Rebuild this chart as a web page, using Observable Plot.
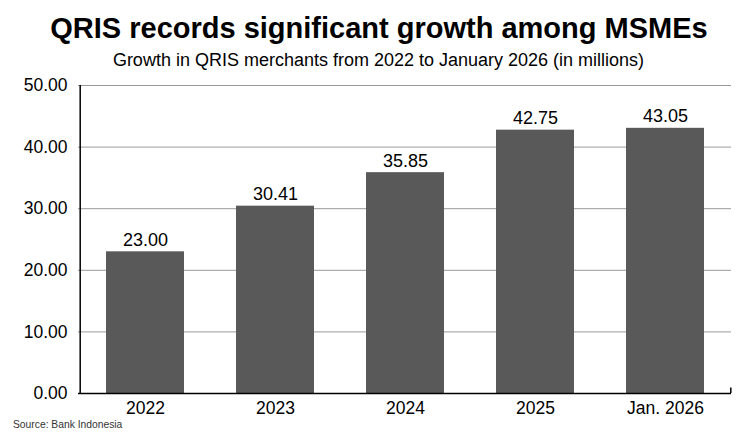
<!DOCTYPE html>
<html>
<head>
<meta charset="utf-8">
<script src="https://cdn.jsdelivr.net/npm/d3@7"></script>
<script src="https://cdn.jsdelivr.net/npm/@observablehq/plot@0.6"></script>
<style>
  html, body { margin: 0; padding: 0; background: #fff; }
  #wrap { position: relative; width: 747px; height: 436px; overflow: hidden; font-family: "Liberation Sans", Arial, sans-serif; }
  #title { position: absolute; left: 0; width: 758px; top: 13.5px; text-align: center; font-weight: bold; font-size: 29px; color: #000; line-height: 1; white-space: nowrap; }
  #subtitle { position: absolute; left: 0; width: 757px; top: 51px; text-align: center; font-size: 18px; color: #000; line-height: 1; white-space: nowrap; }
  #source { position: absolute; left: 13px; top: 420px; font-size: 10.3px; color: #333; line-height: 1; }
  #chart { position: absolute; left: 0; top: 0; }
</style>
</head>
<body>
<div id="wrap">
  <div id="chart"></div>
  <div id="title">QRIS records significant growth among MSMEs</div>
  <div id="subtitle">Growth in QRIS merchants from 2022 to January 2026 (in millions)</div>
  <div id="source">Source: Bank Indonesia</div>
</div>
<script>
const categories = ["2022", "2023", "2024", "2025", "Jan. 2026"];
const values = [23.00, 30.41, 35.85, 42.75, 43.05];
const yTicks = [0, 10, 20, 30, 40, 50];

const data = categories.map((c, i) => ({category: c, value: values[i]}));

const W = 747, H = 436, mL = 78, mR = 16, mT = 85, mB = 43;
const pInner = 0.4, pOuter = 0.2;
const step = (W - mL - mR) / (categories.length - pInner + 2 * pOuter);

const chart = Plot.plot({
  width: W,
  height: H,
  marginLeft: mL,
  marginRight: mR,
  marginTop: mT,
  marginBottom: mB,
  style: {fontFamily: "'Liberation Sans', Arial, sans-serif", fontSize: "17.5px", color: "#000", background: "transparent"},
  x: {domain: categories, paddingInner: pInner, paddingOuter: pOuter, label: null, tickSize: 0, tickPadding: 8},
  y: {domain: [0, 50], ticks: yTicks, tickFormat: d3.format(".2f"), label: null, tickSize: 0, tickPadding: 11},
  marks: [
    Plot.gridY(yTicks, {stroke: "#9a9a9a", strokeOpacity: 1, strokeWidth: 1}),
    Plot.barY(data, {x: "category", y: "value", fill: "#595959"}),
    Plot.text(data, {x: "category", y: "value", text: d => d3.format(".2f")(d.value), lineAnchor: "bottom", dy: -6, fontSize: 18, fill: "#000"}),
    Plot.ruleY([0], {stroke: "#000", strokeWidth: 1.5}),
    Plot.ruleX([categories[0]], {y1: 0, y2: 50, dx: -step / 2, stroke: "#000", strokeWidth: 1.5}),
    Plot.ruleX([categories[categories.length - 1]], {y1: 0, y2: 0.9, dx: step / 2, stroke: "#000", strokeWidth: 1.5})
  ]
});
document.getElementById("chart").appendChild(chart);
</script>
</body>
</html>
